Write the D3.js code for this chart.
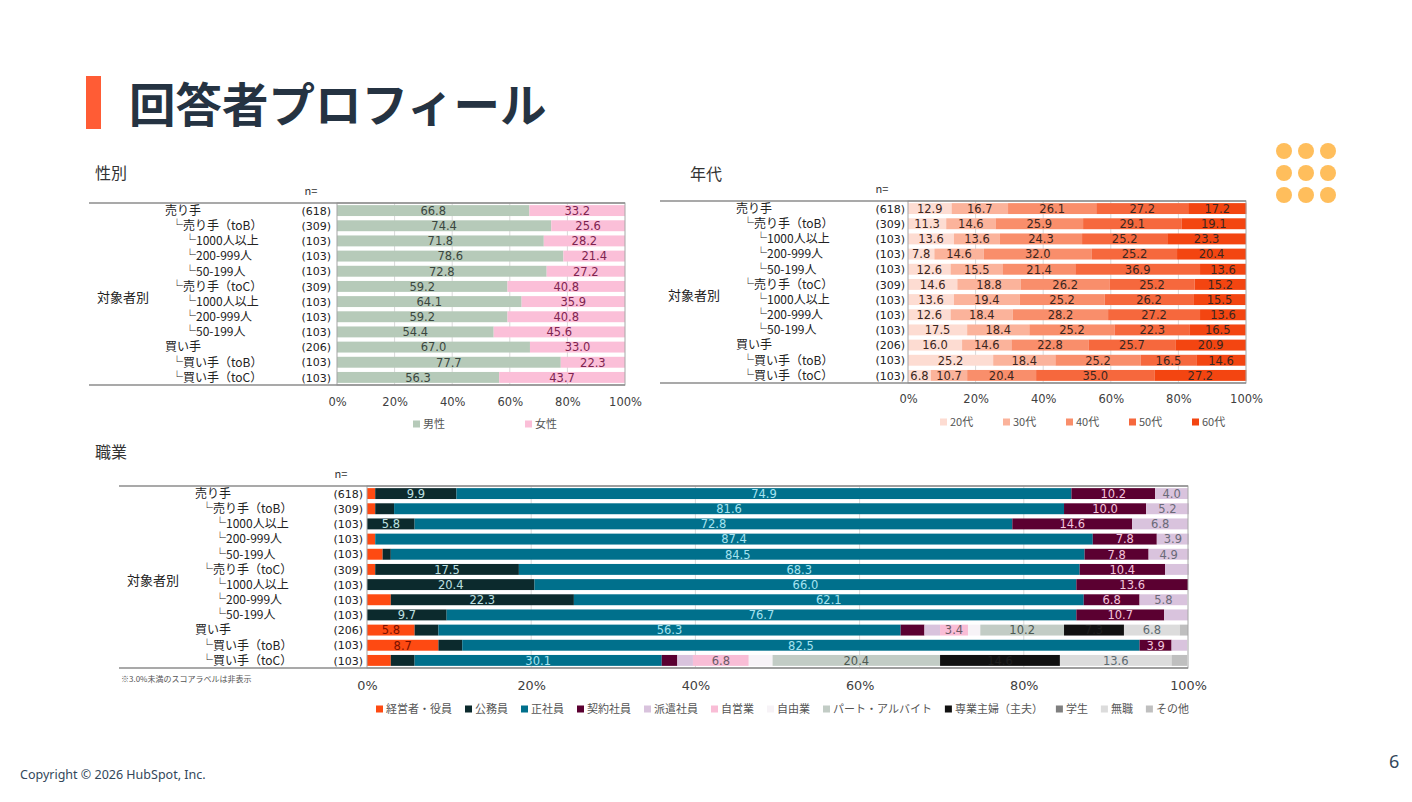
<!DOCTYPE html>
<html>
<head>
<meta charset="utf-8">
<script src="https://cdn.jsdelivr.net/npm/d3@7"></script>
<style>
  body { margin: 0; background: #fff; }
  svg { display: block; font-family: "Noto Sans CJK JP", "Noto Sans", sans-serif; }
  .num { font-family: "DejaVu Sans", "Noto Sans", sans-serif; }
</style>
</head>
<body>
<svg id="slide" width="1412" height="802"></svg>
<script>
// ---- data ----
var categories = ["売り手", "└売り手（toB）", "└1000人以上", "└200-999人", "└50-199人",
                  "└売り手（toC）", "└1000人以上", "└200-999人", "└50-199人",
                  "買い手", "└買い手（toB）", "└買い手（toC）"];
var catLevels = [0, 1, 2, 2, 2, 1, 2, 2, 2, 0, 1, 1];
var sampleN = ["(618)", "(309)", "(103)", "(103)", "(103)", "(309)", "(103)", "(103)", "(103)", "(206)", "(103)", "(103)"];
var pctTicks = [0, 20, 40, 60, 80, 100];

// 性別
var genderKeys = ["男性", "女性"];
var male   = [66.8, 74.4, 71.8, 78.6, 72.8, 59.2, 64.1, 59.2, 54.4, 67.0, 77.7, 56.3];
var female = [33.2, 25.6, 28.2, 21.4, 27.2, 40.8, 35.9, 40.8, 45.6, 33.0, 22.3, 43.7];

// 年代
var ageKeys = ["20代", "30代", "40代", "50代", "60代"];
var age20 = [12.9, 11.3, 13.6, 7.8, 12.6, 14.6, 13.6, 12.6, 17.5, 16.0, 25.2, 6.8];
var age30 = [16.7, 14.6, 13.6, 14.6, 15.5, 18.8, 19.4, 18.4, 18.4, 14.6, 18.4, 10.7];
var age40 = [26.1, 25.9, 24.3, 32.0, 21.4, 26.2, 25.2, 28.2, 25.2, 22.8, 25.2, 20.4];
var age50 = [27.2, 29.1, 25.2, 25.2, 36.9, 25.2, 26.2, 27.2, 22.3, 25.7, 16.5, 35.0];
var age60 = [17.2, 19.1, 23.3, 20.4, 13.6, 15.2, 15.5, 13.6, 16.5, 20.9, 14.6, 27.2];

// 職業
var jobKeys = ["経営者・役員", "公務員", "正社員", "契約社員", "派遣社員", "自営業", "自由業",
               "パート・アルバイト", "専業主婦（主夫）", "学生", "無職", "その他"];
var jobExec      = [1.0, 1.0, 0, 1.0, 1.9, 1.0, 0, 2.9, 0, 5.8, 8.7, 2.9];
var jobCivil     = [9.9, 2.3, 5.8, 0, 1.0, 17.5, 20.4, 22.3, 9.7, 2.9, 2.9, 2.9];
var jobRegular   = [74.9, 81.6, 72.8, 87.4, 84.5, 68.3, 66.0, 62.1, 76.7, 56.3, 82.5, 30.1];
var jobContract  = [10.2, 10.0, 14.6, 7.8, 7.8, 10.4, 13.6, 6.8, 10.7, 2.9, 3.9, 1.9];
var jobDispatch  = [4.0, 5.2, 6.8, 3.9, 4.9, 2.9, 0, 5.8, 2.9, 1.9, 1.9, 1.9];
var jobSelf      = [0, 0, 0, 0, 0, 0, 0, 0, 0, 3.4, 0, 6.8];
var jobFreelance = [0, 0, 0, 0, 0, 0, 0, 0, 0, 1.5, 0, 2.9];
var jobPartTime  = [0, 0, 0, 0, 0, 0, 0, 0, 0, 10.2, 0, 20.4];
var jobHome      = [0, 0, 0, 0, 0, 0, 0, 0, 0, 7.3, 0, 14.6];
var jobStudent   = [0, 0, 0, 0, 0, 0, 0, 0, 0, 0, 0, 0];
var jobNone      = [0, 0, 0, 0, 0, 0, 0, 0, 0, 6.8, 0, 13.6];
var jobOther     = [0, 0, 0, 0, 0, 0, 0, 0, 0, 1.0, 0, 1.9];

var svg = d3.select("#slide");

// ---- slide header / footer ----
svg.append("rect").attr("x", 86).attr("y", 76).attr("width", 15).attr("height", 53).attr("fill", "#ff5c35");
svg.append("text").attr("x", 129).attr("y", 122)
    .attr("font-size", 46.5).attr("font-weight", 700).attr("fill", "#253342")
    .text("回答者プロフィール");

var dotX = [1284, 1306, 1328], dotY = [151, 173, 195];
dotY.forEach(function(cy) {
  dotX.forEach(function(cx) {
    svg.append("circle").attr("cx", cx).attr("cy", cy).attr("r", 8).attr("fill", "#ffbe5c");
  });
});

svg.append("text").attr("x", 20).attr("y", 779)
    .attr("font-family", "'Noto Sans', sans-serif").attr("font-size", 12.5).attr("fill", "#33475b")
    .text("Copyright © 2026 HubSpot, Inc.");
svg.append("text").attr("x", 1389).attr("y", 768)
    .attr("font-family", "'Noto Sans', sans-serif").attr("font-size", 18).attr("fill", "#33475b")
    .text("6");

// ---- generic 100% stacked bar chart ----
function drawStacked(cfg) {
  var g = svg.append("g");
  var x = d3.scaleLinear().domain([0, 100]).range([cfg.left, cfg.right]);
  var y = d3.scaleBand().domain(d3.range(categories.length))
      .range([cfg.top, cfg.bottom]).paddingInner(0.28).paddingOuter(0.14);

  var rows = categories.map(function(c, i) {
    var o = { i: i };
    cfg.keys.forEach(function(k, j) { o[k] = cfg.series[j][i]; });
    return o;
  });
  var stacked = d3.stack().keys(cfg.keys)(rows);

  // section title + n=
  g.append("text").attr("x", cfg.titleX).attr("y", cfg.titleY)
      .attr("font-size", 16).attr("fill", "#333").text(cfg.title);
  g.append("text").attr("x", cfg.left - 26).attr("y", cfg.top - 8)
      .attr("text-anchor", "middle").attr("font-size", 11).attr("fill", "#333").text("n=");

  // gridlines
  g.selectAll(".grid").data(pctTicks.slice(1, -1)).enter().append("line")
      .attr("x1", function(d) { return x(d); }).attr("x2", function(d) { return x(d); })
      .attr("y1", cfg.top).attr("y2", cfg.bottom)
      .attr("stroke", "#d9d9d9").attr("stroke-width", 1);

  // bars
  var layer = g.selectAll(".layer").data(stacked).enter().append("g")
      .attr("fill", function(d, i) { return cfg.colors[i]; });
  layer.selectAll("rect").data(function(d) { return d; }).enter().append("rect")
      .attr("x", function(d) { return x(d[0]); })
      .attr("width", function(d) { return Math.max(0, x(d[1]) - x(d[0])); })
      .attr("y", function(d, i) { return y(i); })
      .attr("height", y.bandwidth());

  // value labels
  stacked.forEach(function(s, si) {
    g.selectAll(null).data(s.filter(function(d) { return d[1] - d[0] >= cfg.minLabel; }))
      .enter().append("text")
        .attr("class", "num")
        .attr("x", function(d) { return x((d[0] + d[1]) / 2); })
        .attr("y", function(d) { return y(d.data.i) + y.bandwidth() / 2; })
        .attr("dy", "0.38em").attr("text-anchor", "middle")
        .attr("font-size", cfg.labelSize).attr("fill", cfg.labelColors[si])
        .text(function(d) { return (d[1] - d[0]).toFixed(1); });
  });

  // frame
  g.append("rect").attr("x", cfg.left).attr("y", cfg.top)
      .attr("width", cfg.right - cfg.left).attr("height", cfg.bottom - cfg.top)
      .attr("fill", "none").attr("stroke", "#a6a6a6").attr("stroke-width", 1);
  [cfg.top, cfg.bottom].forEach(function(yy) {
    g.append("line").attr("x1", cfg.left - 248).attr("x2", cfg.right)
        .attr("y1", yy).attr("y2", yy).attr("stroke", "#8c8c8c").attr("stroke-width", 1.3);
  });

  // axis
  var axis = g.append("g").attr("transform", "translate(0," + (cfg.bottom + cfg.axisGap) + ")")
      .call(d3.axisBottom(x).tickValues(pctTicks).tickSize(0).tickFormat(function(d) { return d + "%"; }));
  axis.select(".domain").remove();
  axis.selectAll("text").attr("font-family", "'DejaVu Sans', sans-serif")
      .attr("font-size", cfg.tickSize).attr("fill", "#404040");

  // category and n labels
  var indent = [0, 6, 19];
  g.selectAll(".cat").data(categories).enter().append("text")
      .attr("x", function(d, i) { return cfg.left - 172 + indent[catLevels[i]]; })
      .attr("y", function(d, i) { return y(i) + y.bandwidth() / 2; })
      .attr("dy", "0.36em").attr("font-size", 12).attr("fill", "#222").text(function(d) { return d; });
  g.selectAll(".n").data(sampleN).enter().append("text")
      .attr("class", "num")
      .attr("x", cfg.left - cfg.nGap)
      .attr("y", function(d, i) { return y(i) + y.bandwidth() / 2; })
      .attr("dy", "0.38em").attr("text-anchor", "end").attr("font-size", 11).attr("fill", "#222")
      .text(function(d) { return d; });
  g.append("text").attr("x", cfg.left - 240).attr("y", (cfg.top + cfg.bottom) / 2 + 3)
      .attr("dy", "0.36em").attr("font-size", 13).attr("fill", "#222").text("対象者別");

  // legend
  var lx = cfg.legendX;
  cfg.keys.forEach(function(k, i) {
    var item = g.append("g").attr("transform", "translate(" + lx + "," + cfg.legendY + ")");
    item.append("rect").attr("x", 0).attr("y", -3.5).attr("width", 7).attr("height", 7)
        .attr("fill", cfg.colors[i]);
    var t = item.append("text").attr("x", 10).attr("y", 0).attr("dy", "0.36em")
        .attr("font-size", cfg.legendSize).attr("fill", "#555").text(k);
    lx += cfg.legendStep ? cfg.legendStep : 10 + t.node().getComputedTextLength() + cfg.legendGap;
  });
  return g;
}

drawStacked({
  title: "性別", titleX: 95, titleY: 179,
  left: 337, right: 625, top: 203, bottom: 385, nGap: 6,
  keys: genderKeys, series: [male, female],
  colors: ["#b6cab9", "#fbbfd8"], labelColors: ["#3a463e", "#7e2450"],
  minLabel: 0, labelSize: 11.5, tickSize: 11.5, axisGap: 10,
  legendX: 413, legendY: 424, legendStep: 112, legendSize: 11
});

drawStacked({
  title: "年代", titleX: 690, titleY: 180,
  left: 908, right: 1246, top: 201, bottom: 383, nGap: 3,
  keys: ageKeys, series: [age20, age30, age40, age50, age60],
  colors: ["#fddcd2", "#fbb39b", "#f98e6b", "#f6683d", "#f34511"],
  labelColors: ["#3b2620", "#3b2620", "#3b2620", "#3b2620", "#3b2620"],
  minLabel: 0, labelSize: 11.5, tickSize: 11.5, axisGap: 9,
  legendX: 940, legendY: 422, legendStep: 63, legendSize: 11
});

var occ = drawStacked({
  title: "職業", titleX: 95, titleY: 458,
  left: 367, right: 1188, top: 486, bottom: 668, nGap: 4,
  keys: jobKeys,
  series: [jobExec, jobCivil, jobRegular, jobContract, jobDispatch, jobSelf, jobFreelance,
           jobPartTime, jobHome, jobStudent, jobNone, jobOther],
  colors: ["#fe4a12", "#0c2a2d", "#00708c", "#5b0031", "#d9c3dd", "#f9bdd6", "#f7f3f7",
           "#c2ccc5", "#111111", "#7f7f7f", "#dcdcdc", "#bfbfbf"],
  labelColors: ["#7a1000", "#bfe0e2", "#a6e3f0", "#f2c6dc", "#6a6a78", "#6a5a66", "#555",
                "#4d5a52", "#1f1f1f", "#eee", "#5d6a70", "#555"],
  minLabel: 3.0, labelSize: 11.5, tickSize: 12.8, axisGap: 10,
  legendX: 376, legendY: 709, legendGap: 13, legendSize: 11
});
occ.append("text").attr("x", 121).attr("y", 679).attr("dy", "0.36em")
    .attr("font-size", 8).attr("fill", "#555").text("※3.0%未満のスコアラベルは非表示");
</script>
</body>
</html>
